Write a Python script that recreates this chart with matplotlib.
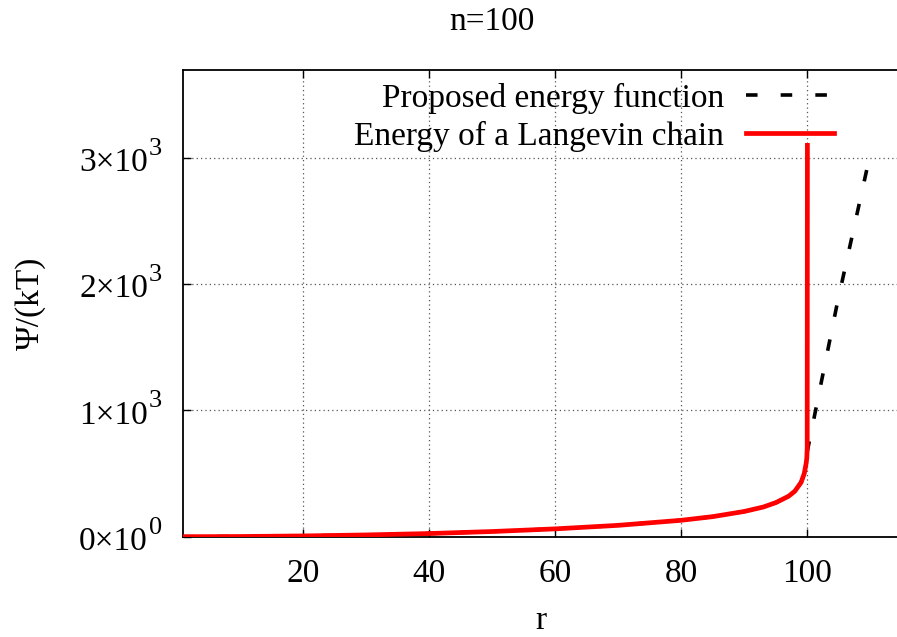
import matplotlib
matplotlib.use("Agg")
import matplotlib.pyplot as plt
from matplotlib.transforms import blended_transform_factory, offset_copy

plt.rcParams['font.family'] = ['Liberation Serif', 'DejaVu Serif']

# Langevin chain energy
r_lang = [1, 10, 20, 30, 40, 50, 60, 70, 80, 85, 90, 93, 95, 97, 98, 99, 99.5, 99.8, 99.9, 99.97, 100.0]
e_lang = [0, 1.5, 6, 14, 25, 41, 62, 90, 130, 159, 200, 235, 270, 320, 360, 430, 500, 580, 620, 700, 3100]

# Proposed energy function
r_prop = [1, 10, 20, 30, 40, 50, 60, 70, 80, 85, 90, 93, 95, 97, 98, 99, 99.5, 100.0, 104.7, 110.0]
e_prop = [0, 1.5, 6, 14, 25, 41, 62, 90, 130, 159, 200, 235, 270, 320, 360, 430, 500, 680, 1840, 3040]

x_ticks = [20, 40, 60, 80, 100]
y_ticks = [0, 1000, 2000, 3000]
y_mant = ['0', '1', '2', '3']
y_exp = ['0', '3', '3', '3']

FS = 24
W, H = 897, 637
fig = plt.figure(figsize=(W / 100, H / 100), dpi=100)
ax_l, ax_r, ax_t, ax_b = 183, 902, 70, 536.7
ax = fig.add_axes([ax_l / W, 1 - ax_b / H, (ax_r - ax_l) / W, (ax_b - ax_t) / H])

ax.plot(r_prop, e_prop, color='black', lw=2.6, dashes=(3.2, 6.4),
        label='Proposed energy function', zorder=3)
ax.plot(r_lang, e_lang, color='#ff0000', lw=3.4,
        label='Energy of a Langevin chain', zorder=4)

ax.set_xlim(1, 115)
ax.set_ylim(0, 3697)
ax.set_xticks(x_ticks)
ax.set_yticks(y_ticks)
ax.set_yticklabels([])
ax.tick_params(direction='in', length=6, width=1, labelsize=FS, top=True,
               right=False)
ax.tick_params(axis='x', pad=16)
ax.grid(True, linestyle=(0, (1, 2.5)), color='#555555', lw=0.9)
ax.spines['right'].set_visible(False)
for s in ['left', 'bottom', 'top']:
    ax.spines[s].set_linewidth(1.3)

# y tick labels in "m×10^e" form
trans = blended_transform_factory(fig.transFigure, ax.transData)
for v, m, e in zip(y_ticks, y_mant, y_exp):
    t1 = offset_copy(trans, fig=fig, x=0, y=-5, units='dots')
    ax.text(148 / W, v, m + '×10', transform=t1, ha='right', va='center',
            fontsize=FS, clip_on=False)
    t2 = offset_copy(trans, fig=fig, x=0, y=9, units='dots')
    ax.text(149 / W, v, e, transform=t2, ha='left', va='center',
            fontsize=19, clip_on=False)

fig.text(541 / W, 1 - 621 / H, 'r', fontsize=FS, ha='center', va='center')
fig.text(30 / W, 1 - 303 / H, 'Ψ/(kT)', fontsize=FS, ha='center', va='center',
         rotation=90)
fig.text(492 / W, 1 - 22 / H, 'n=100', fontsize=FS, ha='center', va='center')

leg = ax.legend(loc='upper right',
                bbox_to_anchor=((834 - ax_l) / (ax_r - ax_l), (ax_b - 83) / (ax_b - ax_t)),
                frameon=False, fontsize=FS, markerfirst=False,
                handlelength=2.64, handletextpad=0.66, labelspacing=0.2,
                borderaxespad=0, borderpad=0)
for t in leg.get_texts():
    t.set_ha('right')

fig.savefig('out.png', dpi=100)
